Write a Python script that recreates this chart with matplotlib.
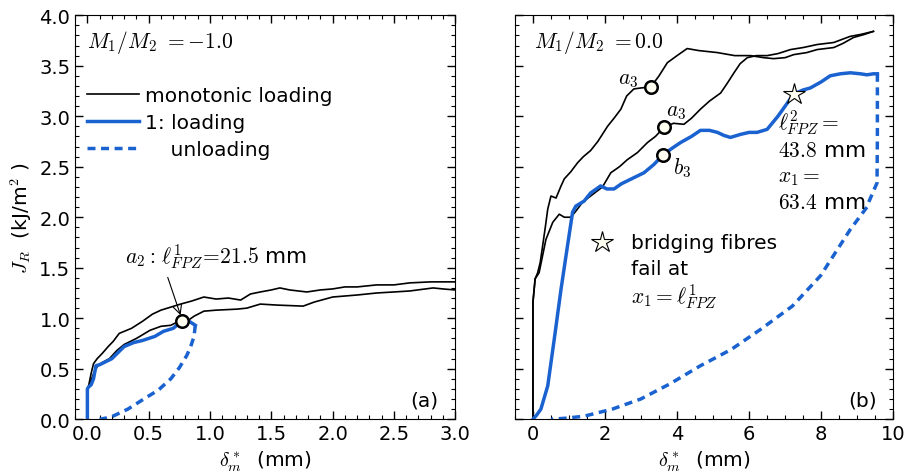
import matplotlib
matplotlib.use('Agg')
import matplotlib.pyplot as plt
from matplotlib.ticker import MultipleLocator

plt.rcParams['mathtext.fontset'] = 'cm'
plt.rcParams['font.family'] = ['DejaVu Sans']

BLUE = '#1a62d0'
IVORY = '#fdfdf0'

# ---- panel (a): M1/M2 = -1.0 ----
a_mono1_x = [0, 0.0, 0.01, 0.03, 0.05, 0.08, 0.12, 0.17, 0.21, 0.26, 0.30, 0.36, 0.45, 0.53,
             0.60, 0.68, 0.76, 0.85, 0.95, 1.05, 1.15, 1.25, 1.33, 1.41, 1.50, 1.57, 1.65,
             1.79, 1.90, 2.0, 2.1, 2.2, 2.36, 2.5, 2.63, 2.8, 2.96, 3.0]
a_mono1_y = [0, 0.28, 0.33, 0.45, 0.55, 0.60, 0.65, 0.72, 0.77, 0.85, 0.87, 0.90, 0.97, 1.04,
             1.08, 1.11, 1.14, 1.17, 1.21, 1.19, 1.20, 1.18, 1.24, 1.26, 1.28, 1.30, 1.28,
             1.26, 1.28, 1.29, 1.31, 1.31, 1.33, 1.33, 1.35, 1.36, 1.36, 1.36]
a_mono2_x = [0, 0.0, 0.02, 0.05, 0.08, 0.12, 0.18, 0.24, 0.30, 0.40, 0.51, 0.60, 0.68, 0.73,
             0.80, 0.87, 0.95, 1.05, 1.22, 1.30, 1.41, 1.55, 1.76, 1.85, 2.0, 2.2, 2.36,
             2.5, 2.63, 2.82, 2.9, 3.0]
a_mono2_y = [0, 0.28, 0.35, 0.45, 0.52, 0.56, 0.60, 0.68, 0.74, 0.80, 0.88, 0.92, 0.93, 0.96,
             0.96, 1.02, 1.07, 1.08, 1.09, 1.10, 1.14, 1.13, 1.12, 1.16, 1.21, 1.23, 1.25,
             1.26, 1.27, 1.30, 1.29, 1.28]
a_load_x = [0, 0.0, 0.01, 0.03, 0.05, 0.07, 0.10, 0.15, 0.20, 0.25, 0.30, 0.38, 0.45, 0.55,
            0.62, 0.70, 0.77, 0.83, 0.88]
a_load_y = [0, 0.30, 0.32, 0.34, 0.40, 0.53, 0.54, 0.57, 0.60, 0.66, 0.72, 0.76, 0.78, 0.82,
            0.87, 0.90, 0.97, 0.97, 0.93]
a_unload_x = [0.88, 0.87, 0.84, 0.81, 0.75, 0.68, 0.58, 0.46, 0.33, 0.19, 0.10]
a_unload_y = [0.93, 0.82, 0.71, 0.63, 0.51, 0.40, 0.29, 0.20, 0.10, 0.02, 0.0]
a_pt = (0.77, 0.97)

# ---- panel (b): M1/M2 = 0.0 ----
b_mono1_x = [0, 0.0, 0.06, 0.13, 0.20, 0.27, 0.35, 0.41, 0.50, 0.64, 0.78, 0.87, 1.05, 1.24,
             1.40, 1.60, 1.80, 2.07, 2.25, 2.44, 2.60, 2.80, 3.0, 3.27, 3.50, 3.73, 4.0,
             4.28, 4.60, 5.12, 5.60, 6.04, 6.40, 6.68, 7.0, 7.24, 7.60, 7.89, 8.35, 8.60,
             8.90, 9.20, 9.45]
b_mono1_y = [0, 1.16, 1.39, 1.45, 1.55, 1.72, 1.92, 2.08, 2.21, 2.19, 2.31, 2.38, 2.45, 2.54,
             2.60, 2.66, 2.75, 2.90, 2.98, 3.07, 3.20, 3.27, 3.28, 3.29, 3.40, 3.53, 3.60,
             3.67, 3.65, 3.63, 3.60, 3.60, 3.58, 3.57, 3.58, 3.61, 3.63, 3.66, 3.68, 3.72,
             3.78, 3.81, 3.84]
b_mono2_x = [0, 0.0, 0.06, 0.17, 0.36, 0.55, 0.73, 0.87, 1.05, 1.19, 1.38, 1.60, 1.93, 2.16,
             2.40, 2.62, 2.90, 3.18, 3.40, 3.64, 3.90, 4.19, 4.40, 4.65, 4.90, 5.21, 5.40,
             5.58, 5.75, 5.95, 6.20, 6.50, 6.80, 7.15, 7.50, 7.89, 8.35, 8.80, 9.10, 9.45]
b_mono2_y = [0, 1.16, 1.39, 1.45, 1.78, 1.95, 2.03, 2.00, 2.00, 2.06, 2.15, 2.21, 2.30, 2.44,
             2.50, 2.57, 2.64, 2.74, 2.80, 2.89, 2.93, 2.92, 2.98, 3.07, 3.15, 3.23, 3.33,
             3.43, 3.52, 3.58, 3.60, 3.60, 3.62, 3.66, 3.68, 3.71, 3.73, 3.79, 3.81, 3.84]
b_load_x = [0, 0.10, 0.22, 0.41, 0.59, 0.78, 0.96, 1.10, 1.19, 1.42, 1.60, 1.88, 2.05, 2.25,
            2.45, 2.62, 2.85, 3.08, 3.35, 3.62, 3.85, 4.10, 4.40, 4.65, 4.90, 5.12, 5.30,
            5.48, 5.76, 6.0, 6.22, 6.50, 6.80, 7.0, 7.24, 7.50, 7.70, 8.0, 8.25, 8.53,
            8.81, 9.09, 9.27, 9.45, 9.56]
b_load_y = [0, 0.04, 0.10, 0.33, 0.79, 1.29, 1.72, 2.05, 2.11, 2.16, 2.24, 2.31, 2.28, 2.28,
            2.33, 2.36, 2.40, 2.44, 2.52, 2.62, 2.68, 2.74, 2.80, 2.86, 2.86, 2.84, 2.81,
            2.79, 2.82, 2.84, 2.84, 2.87, 3.00, 3.10, 3.22, 3.26, 3.28, 3.34, 3.40, 3.42,
            3.43, 3.42, 3.41, 3.42, 3.42]
b_unload_x = [9.56, 9.56, 9.55, 9.32, 9.27, 8.81, 7.98, 7.20, 6.32, 5.50, 4.65, 3.80, 2.99,
              2.20, 1.42, 0.90, 0.50]
b_unload_y = [3.42, 2.80, 2.34, 2.15, 2.10, 1.88, 1.42, 1.12, 0.89, 0.69, 0.53, 0.35, 0.20,
              0.10, 0.03, 0.01, 0.0]
b_pts_x = [3.27, 3.64, 3.62]
b_pts_y = [3.29, 2.89, 2.62]
b_star = (7.24, 3.22)

fig = plt.figure(figsize=(9.05, 4.77), dpi=100)
ax1 = fig.add_axes([0.083, 0.119, 0.420, 0.847])
ax2 = fig.add_axes([0.569, 0.119, 0.418, 0.847])

fs = 14      # tick labels
fl = 14.5    # plain text
fm = 15.5    # math text
dash = (0, (2.3, 1.6))
for ax in (ax1, ax2):
    ax.tick_params(which='both', direction='in', top=True, right=True, labelsize=fs)
    ax.tick_params(which='major', length=6, width=1)
    ax.tick_params(which='minor', length=3, width=0.8)
    ax.set_ylim(0, 4.0)
    ax.yaxis.set_major_locator(MultipleLocator(0.5))
    ax.yaxis.set_minor_locator(MultipleLocator(0.1))
    ax.set_xlabel(r'$\delta_m^*$  (mm)', fontsize=fl)

# panel (a)
ax1.plot(a_mono1_x, a_mono1_y, color='k', lw=1.2, label='monotonic loading')
ax1.plot(a_mono2_x, a_mono2_y, color='k', lw=1.2)
ax1.plot(a_load_x, a_load_y, color=BLUE, lw=2.5, label='1: loading')
ax1.plot(a_unload_x, a_unload_y, color=BLUE, lw=2.5, ls=dash, label='    unloading')
ax1.plot(*a_pt, 'o', ms=9, mfc=IVORY, mec='k', mew=1.8)
ax1.set_xlim(-0.1, 3.0)
ax1.xaxis.set_major_locator(MultipleLocator(0.5))
ax1.xaxis.set_minor_locator(MultipleLocator(0.1))
ax1.set_ylabel(r'$J_R$  (kJ/m$^2$ )', fontsize=fl)
ax1.text(0.0, 3.74, r'$M_1/M_2\ ={-}1.0$', fontsize=fm, va='center')
ax1.annotate(r'$a_2:\,\ell^1_{FPZ}\!=\!21.5$ mm', xy=(0.76, 1.03), xytext=(0.31, 1.55),
             fontsize=fm, arrowprops=dict(arrowstyle='->', color='k', lw=0.8,
                                          shrinkA=3, shrinkB=0, relpos=(0.22, 0)))
ax1.text(2.86, 0.1, '(a)', fontsize=fl, ha='right', va='bottom')
ax1.legend(loc='upper left', bbox_to_anchor=(0.03, 0.825), frameon=False, fontsize=fl,
           handlelength=2.6, handletextpad=0.3, borderpad=0, borderaxespad=0,
           labelspacing=0.4)

# panel (b)
ax2.plot(b_mono1_x, b_mono1_y, color='k', lw=1.2)
ax2.plot(b_mono2_x, b_mono2_y, color='k', lw=1.2)
ax2.plot(b_load_x, b_load_y, color=BLUE, lw=2.5)
ax2.plot(b_unload_x, b_unload_y, color=BLUE, lw=2.5, ls=dash)
ax2.plot(b_pts_x, b_pts_y, 'o', ls='none', ms=9, mfc=IVORY, mec='k', mew=1.8)
ax2.plot(*b_star, '*', ms=16, mfc=IVORY, mec='k', mew=0.8)
ax2.plot(1.91, 1.75, '*', ms=16, mfc=IVORY, mec='k', mew=0.8)
ax2.set_xlim(-0.5, 10)
ax2.xaxis.set_major_locator(MultipleLocator(2))
ax2.xaxis.set_minor_locator(MultipleLocator(0.5))
ax2.set_yticklabels([])
ax2.text(0.03, 3.74, r'$M_1/M_2\ =0.0$', fontsize=fm, va='center')
ax2.text(2.35, 3.37, r'$a_3$', fontsize=fm, va='center')
ax2.text(3.70, 3.05, r'$a_3$', fontsize=fm, va='center')
ax2.text(3.90, 2.50, r'$b_3$', fontsize=fm, va='center')
ax2.text(6.8, 2.94, r'$\ell^2_{FPZ}=$', fontsize=fm, va='center')
ax2.text(6.8, 2.67, r'$43.8$ mm', fontsize=fm, va='center')
ax2.text(6.8, 2.40, r'$x_1=$', fontsize=fm, va='center')
ax2.text(6.8, 2.15, r'$63.4$ mm', fontsize=fm, va='center')
ax2.text(2.71, 1.75, 'bridging fibres', fontsize=fl, va='center')
ax2.text(2.71, 1.49, 'fail at', fontsize=fl, va='center')
ax2.text(2.71, 1.22, r'$x_1=\ell^1_{FPZ}$', fontsize=fm, va='center')
ax2.text(9.55, 0.1, '(b)', fontsize=fl, ha='right', va='bottom')

fig.savefig('out.png', dpi=100)
